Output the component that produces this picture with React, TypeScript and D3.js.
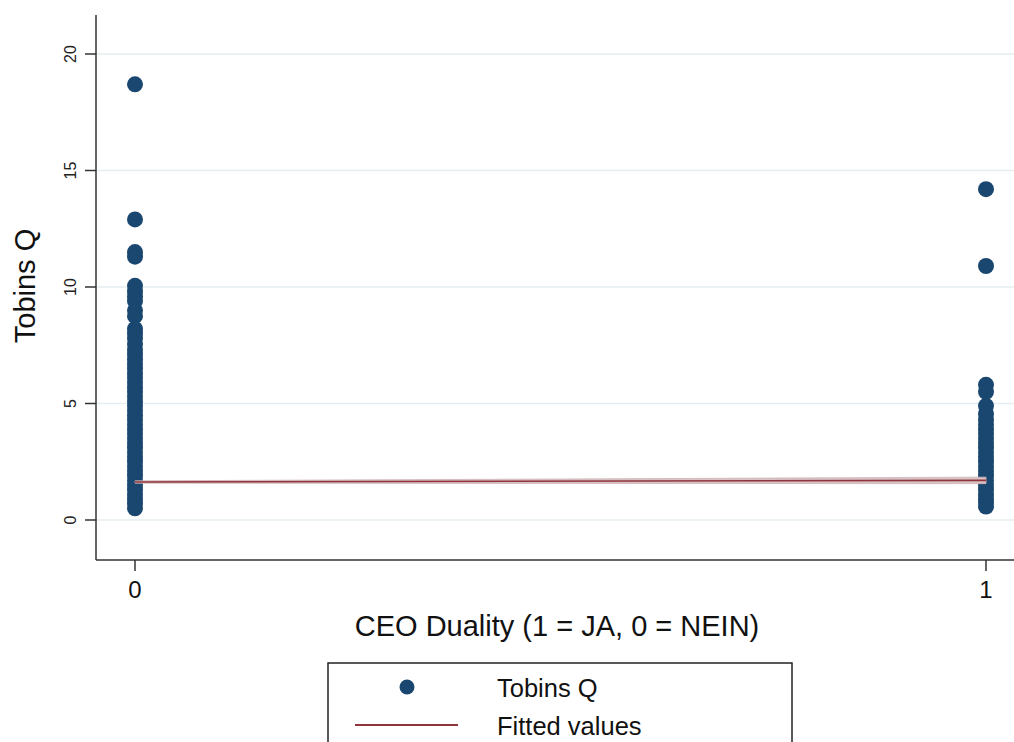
import React from "react";
import * as d3 from "d3";

// Tobin's Q observations by CEO duality group
const groups = [0, 1];
const tobinsQNoDuality = [
  18.7, 12.9, 11.5, 11.3, 10.05, 9.8, 9.6, 9.4, 9.0, 8.75, 8.2, 8.0, 7.8, 7.55,
  7.3, 7.1, 6.9, 6.7, 6.5, 6.3, 6.1, 5.9, 5.7, 5.5, 5.3, 5.1, 4.9, 4.7, 4.5,
  4.3, 4.1, 3.9, 3.7, 3.5, 3.3, 3.1, 2.9, 2.7, 2.5, 2.3, 2.1, 1.9, 1.7, 1.5,
  1.3, 1.1, 0.9, 0.7, 0.5,
];
const tobinsQDuality = [
  14.2, 10.9, 5.8, 5.5, 4.9, 4.55, 4.3, 4.1, 3.9, 3.7, 3.5, 3.3, 3.1, 2.9, 2.7,
  2.5, 2.3, 2.1, 1.9, 1.7, 1.5, 1.3, 1.1, 0.9, 0.75, 0.58,
];
// Linear fit with its confidence interval at each group
const fittedValues = [1.63, 1.7];
const fittedLower = [1.58, 1.56];
const fittedUpper = [1.68, 1.84];
const yTicks = [0, 5, 10, 15, 20];

const NAVY = "rgb(26,71,111)";
const MAROON = "rgb(144,53,59)";
const FONT = "'Liberation Sans', Arial, Helvetica, sans-serif";

export default function App() {
  const width = 1014;
  const height = 742;
  const left = 96;
  const top = 15;
  const bottom = 560;

  const x = d3.scaleLinear().domain([0, 1]).range([135, 986]);
  const y = d3.scaleLinear().domain([0, 20]).range([520, 54]);

  const points = [
    ...tobinsQNoDuality.map((v) => ({ g: groups[0], v })),
    ...tobinsQDuality.map((v) => ({ g: groups[1], v })),
  ];

  const band = d3
    .area<number>()
    .x((_, i) => x(groups[i]))
    .y0((_, i) => y(fittedLower[i]))
    .y1((_, i) => y(fittedUpper[i]));
  const fitLine = d3
    .line<number>()
    .x((_, i) => x(groups[i]))
    .y((d) => y(d));

  return (
    <svg
      width={width}
      height={height}
      style={{ position: "absolute", left: 0, top: 0, background: "#fff" }}
      fontFamily={FONT}
    >
      {/* horizontal grid */}
      {yTicks.map((t) => (
        <line
          key={"g" + t}
          x1={left}
          x2={width}
          y1={y(t)}
          y2={y(t)}
          stroke="#e6edf1"
          strokeWidth={1.5}
        />
      ))}

      {/* observations */}
      {points.map((p, i) => (
        <circle key={i} cx={x(p.g)} cy={y(p.v)} r={8} fill={NAVY} />
      ))}

      {/* fitted values with confidence band */}
      <path d={band(fittedValues) ?? ""} fill="#d8c3c6" stroke="#cfb2b6" strokeWidth={0.8} />
      <path d={fitLine(fittedValues) ?? ""} fill="none" stroke={MAROON} strokeWidth={1.6} />

      {/* axes */}
      <line x1={left} x2={left} y1={top} y2={bottom} stroke="#333" strokeWidth={1.5} />
      <line x1={left} x2={width} y1={bottom} y2={bottom} stroke="#333" strokeWidth={1.5} />
      {yTicks.map((t) => (
        <g key={"t" + t}>
          <line x1={left - 11} x2={left} y1={y(t)} y2={y(t)} stroke="#333" strokeWidth={1.5} />
          <text
            transform={`translate(70,${y(t)}) rotate(-90)`}
            textAnchor="middle"
            dominantBaseline="central"
            fontSize={16}
            fill="#222"
          >
            {t}
          </text>
        </g>
      ))}
      {groups.map((g) => (
        <g key={"x" + g}>
          <line x1={x(g)} x2={x(g)} y1={bottom} y2={bottom + 11} stroke="#333" strokeWidth={1.5} />
          <text x={x(g)} y={598} textAnchor="middle" fontSize={24} fill="#111">
            {g}
          </text>
        </g>
      ))}

      {/* axis titles */}
      <text
        transform={`translate(35,286) rotate(-90)`}
        textAnchor="middle"
        fontSize={29}
        fill="#111"
      >
        Tobins Q
      </text>
      <text x={557} y={636} textAnchor="middle" fontSize={29} fill="#111">
        CEO Duality (1 = JA, 0 = NEIN)
      </text>

      {/* legend */}
      <rect x={328} y={663} width={464} height={100} fill="#fff" stroke="#222" strokeWidth={1.5} />
      <circle cx={407} cy={687} r={7.5} fill={NAVY} />
      <text x={497} y={697} fontSize={25.5} fill="#111">
        Tobins Q
      </text>
      <line x1={355} x2={458} y1={725} y2={725} stroke={MAROON} strokeWidth={2} />
      <text x={497} y={735} fontSize={25.5} fill="#111">
        Fitted values
      </text>
    </svg>
  );
}
